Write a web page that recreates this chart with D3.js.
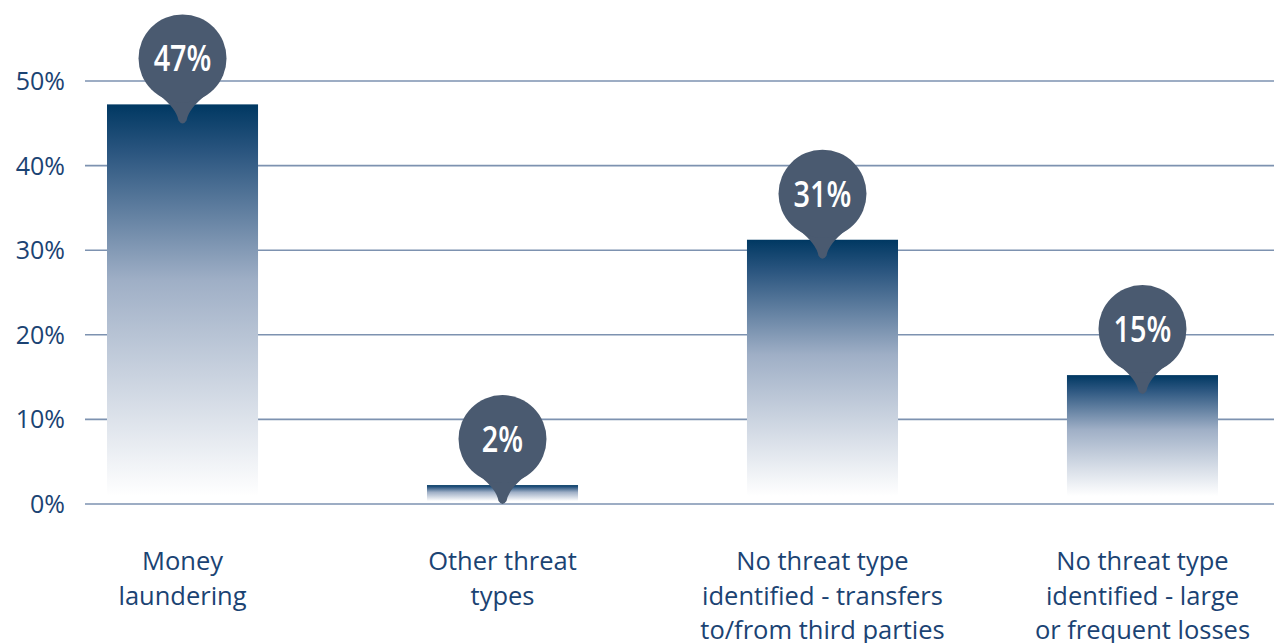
<!DOCTYPE html>
<html>
<head>
<meta charset="utf-8">
<script src="https://cdn.jsdelivr.net/npm/d3@7"></script>
<style>
  body { margin: 0; background: #fff; }
  svg { display: block; }
</style>
</head>
<body>
<svg></svg>
<script>
var categories = [
  ["Money", "laundering"],
  ["Other threat", "types"],
  ["No threat type", "identified - transfers", "to/from third parties"],
  ["No threat type", "identified - large", "or frequent losses"]
];
var values = [47, 2, 31, 15];
var yTicks = [0, 10, 20, 30, 40, 50];

var width = 1274;
var height = 643;
var textFont = "'Open Sans', 'Noto Sans', sans-serif";

var svg = d3.select("svg")
  .attr("width", width)
  .attr("height", height);

var x = d3.scaleBand()
  .domain(d3.range(values.length))
  .range([107, 1218])
  .paddingInner(0.528)
  .paddingOuter(0);

var y = d3.scaleLinear()
  .domain([0, 50])
  .range([504, 81]);

var defs = svg.append("defs");
var grad = defs.append("linearGradient")
  .attr("id", "barGrad")
  .attr("x1", 0).attr("y1", 0)
  .attr("x2", 0).attr("y2", 1);
grad.append("stop").attr("offset", "0%").attr("stop-color", "#003862");
grad.append("stop").attr("offset", "12%").attr("stop-color", "#2a557f");
grad.append("stop").attr("offset", "45%").attr("stop-color", "#9fafc6");
grad.append("stop").attr("offset", "100%").attr("stop-color", "#ffffff");

// gridlines
var gridGp = svg.append("g").classed("grid", true);
gridGp.selectAll("line")
  .data(yTicks)
  .enter()
  .append("line")
    .attr("x1", 85)
    .attr("x2", width)
    .attr("y1", d => y(d))
    .attr("y2", d => y(d))
    .attr("stroke", "#7d92b0")
    .attr("stroke-width", 1.6);

gridGp.selectAll("text")
  .data(yTicks)
  .enter()
  .append("text")
    .attr("x", 65)
    .attr("y", d => y(d) + 9)
    .attr("text-anchor", "end")
    .attr("font-family", textFont)
    .attr("font-size", 25)
    .attr("fill", "#1b4373")
    .text(d => d + "%");

// bars
var barGp = svg.append("g").classed("bars", true);
barGp.selectAll("rect")
  .data(values)
  .enter()
  .append("rect")
    .attr("x", (d, i) => x(i))
    .attr("width", x.bandwidth())
    .attr("y", d => y(d) - 2)
    .attr("height", d => Math.max(y(0) - 8 - (y(d) - 2), 16))
    .attr("fill", "url(#barGrad)");

// bubbles
var bubbleGp = svg.append("g").classed("bubbles", true);
var bubble = bubbleGp.selectAll("g")
  .data(values)
  .enter()
  .append("g")
    .attr("transform", (d, i) => "translate(" + (x(i) + x.bandwidth() / 2) + "," + (y(d) - 48) + ")");

bubble.append("path")
  .attr("d", "M -24 36 Q -6 50 -4 62 Q 0 68 4 62 Q 6 50 24 36 Z")
  .attr("fill", "#4a5a70");

bubble.append("circle")
  .attr("r", 44)
  .attr("fill", "#4a5a70");

bubble.append("text")
  .attr("y", 13)
  .attr("text-anchor", "middle")
  .attr("transform", "scale(0.8,1)")
  .attr("font-family", textFont)
  .attr("font-weight", 600)
  .attr("font-size", 36)
  .attr("fill", "#ffffff")
  .text(d => d + "%");

// category labels
var labelGp = svg.append("g").classed("labels", true);
labelGp.selectAll("text")
  .data(categories)
  .enter()
  .append("text")
    .attr("text-anchor", "middle")
    .attr("font-family", textFont)
    .attr("font-size", 25.5)
    .attr("fill", "#1b4373")
    .attr("transform", (d, i) => "translate(" + (x(i) + x.bandwidth() / 2) + ",570)")
    .selectAll("tspan")
    .data(d => d)
    .enter()
    .append("tspan")
      .attr("x", 0)
      .attr("y", (d, j) => j * 34.5)
      .text(d => d);
</script>
</body>
</html>
